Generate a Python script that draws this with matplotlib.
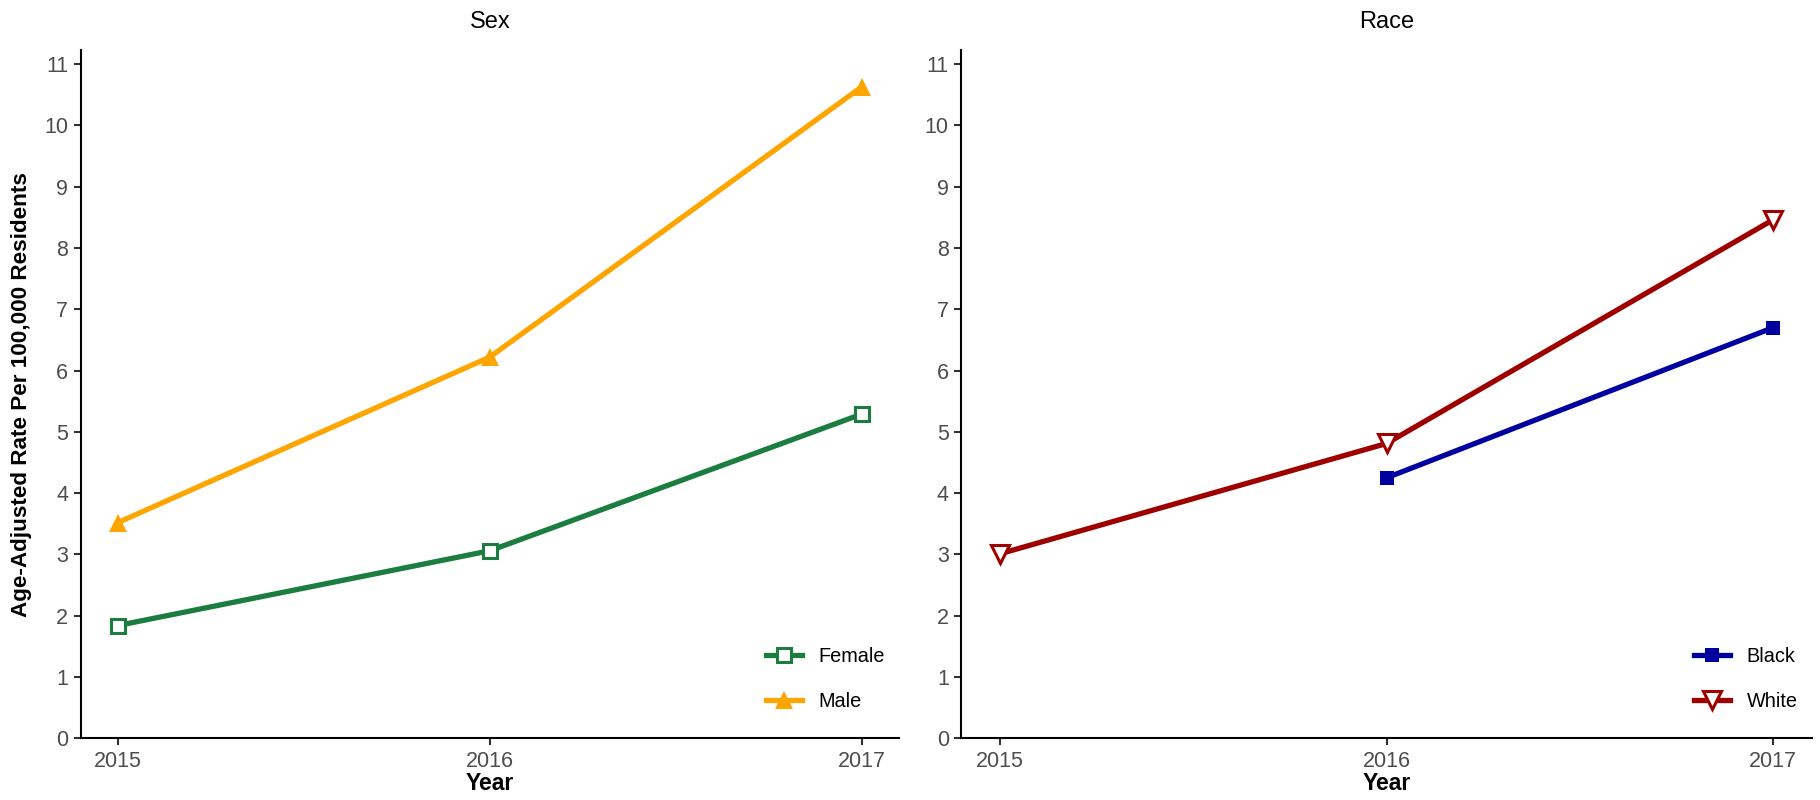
import matplotlib
matplotlib.use("Agg")
import matplotlib.pyplot as plt

plt.rcParams['font.family'] = ['Liberation Sans', 'DejaVu Sans']

years = [2015, 2016, 2017]
female = [1.84, 3.06, 5.29]
male = [3.52, 6.22, 10.63]
black_years = [2016, 2017]
black = [4.25, 6.70]
white = [3.01, 4.81, 8.46]

yticks = list(range(0, 12))
panel_titles = ["Sex", "Race"]
ylabel = "Age-Adjusted Rate Per 100,000 Residents"
xlabel = "Year"

GREEN = "#1B7D3F"
ORANGE = "#FFA500"
BLUE = "#0000A0"
RED = "#9E0000"

W, H = 1820, 800
fig = plt.figure(figsize=(W/100, H/100), dpi=100)
ax1 = fig.add_axes([80.7/W, 1-738.3/H, (899-80.7)/W, (738.3-50)/H])
ax2 = fig.add_axes([961.3/W, 1-738.3/H, (1811.7-961.3)/W, (738.3-50)/H])

lw = 3.8
ax1.plot(years, female, color=GREEN, lw=lw, marker='s', ms=10, mfc='white',
         mec=GREEN, mew=2.2, label='Female', zorder=3)
ax1.plot(years, male, color=ORANGE, lw=lw, marker='^', ms=13, mfc=ORANGE,
         mec=ORANGE, mew=0, label='Male', zorder=3)
ax2.plot(black_years, black, color=BLUE, lw=lw, marker='s', ms=10, mfc=BLUE,
         mec=BLUE, mew=0, label='Black', zorder=3)
ax2.plot(years, white, color=RED, lw=lw, marker='v', ms=13, mfc='white',
         mec=RED, mew=2.2, label='White', zorder=3)

for ax, title in zip([ax1, ax2], panel_titles):
    ax.set_xlim(2014.9, 2017.1)
    ax.set_ylim(0, 11.23)
    ax.set_xticks(years)
    ax.set_xticklabels([str(y) for y in years])
    ax.set_yticks(yticks)
    ax.set_yticklabels([str(t) for t in yticks])
    for s in ['top', 'right']:
        ax.spines[s].set_visible(False)
    for s in ['left', 'bottom']:
        ax.spines[s].set_linewidth(1.5)
        ax.spines[s].set_color('black')
    ax.tick_params(axis='both', which='major', labelsize=15.5, labelcolor='#4D4D4D',
                   length=5, width=1.5, pad=4, color='#333333')
    ax.set_title(title, fontsize=17, pad=16)
    ax.set_xlabel(xlabel, fontsize=16.5, fontweight='bold', labelpad=0)
    axw = (899-80.7) if ax is ax1 else (1811.7-961.3)
    ax.legend(frameon=False, fontsize=14.3, handlelength=1.8,
              handletextpad=0.85, labelspacing=1.33,
              loc='lower right', borderpad=0, borderaxespad=0,
              bbox_to_anchor=(1.0 - 14/axw, 27/688.3))
ax1.set_ylabel(ylabel, fontsize=16.2, fontweight='bold', labelpad=9)

fig.savefig("out.png", dpi=100, facecolor='white')
